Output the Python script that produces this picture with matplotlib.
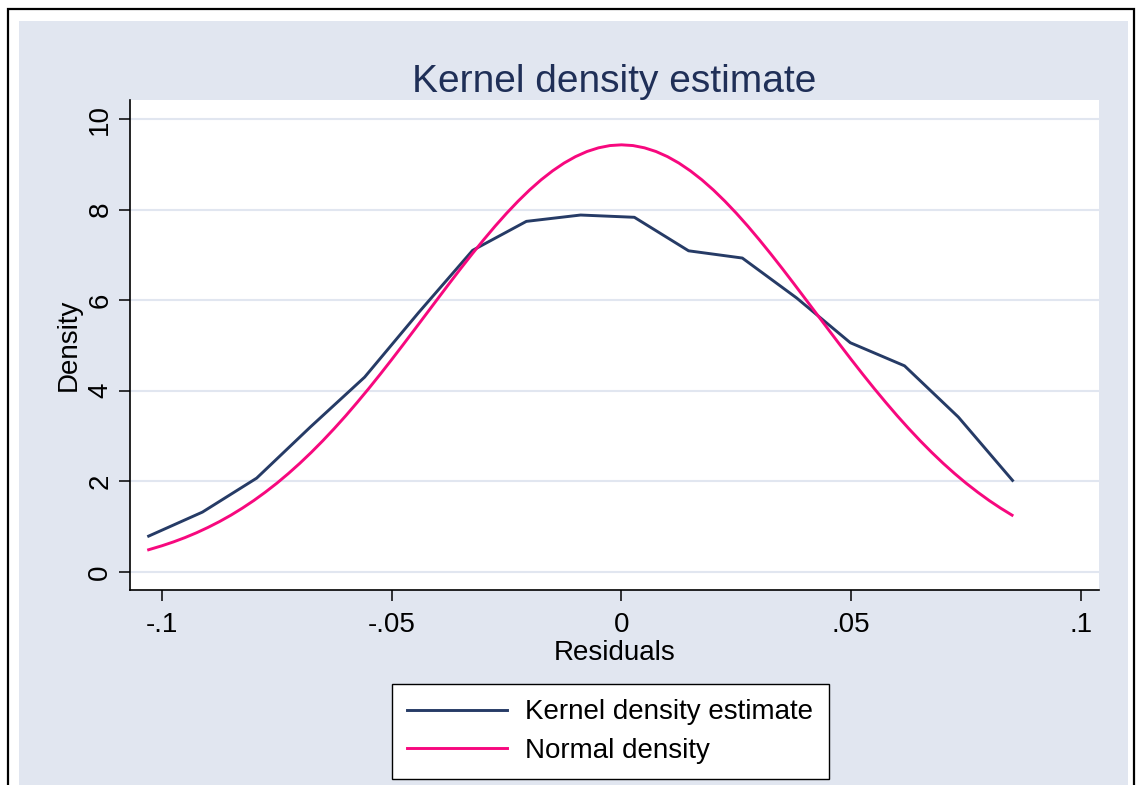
import matplotlib
matplotlib.use('Agg')  # no display
import matplotlib.pyplot as plt
from matplotlib.patches import Rectangle

plt.rcParams['font.family'] = ['Liberation Sans', 'DejaVu Sans']

# Kernel density estimate
kde_x = [-0.1029, -0.0912, -0.0794, -0.0677, -0.0559, -0.0442, -0.0324, -0.0207, -0.0089,
         0.0028, 0.0146, 0.0263, 0.0381, 0.0498, 0.0616, 0.0733, 0.0851]
kde_y = [0.79, 1.32, 2.07, 3.20, 4.30, 5.72, 7.10, 7.74, 7.88,
         7.83, 7.09, 6.93, 6.05, 5.06, 4.55, 3.42, 2.02]

# Normal density curve
norm_x = [-0.1029, -0.1000, -0.0975, -0.0950, -0.0925, -0.0900, -0.0875, -0.0850, -0.0825,
          -0.0800, -0.0775, -0.0750, -0.0725, -0.0700, -0.0675, -0.0650, -0.0625, -0.0600,
          -0.0575, -0.0550, -0.0525, -0.0500, -0.0475, -0.0450, -0.0425, -0.0400, -0.0375,
          -0.0350, -0.0325, -0.0300, -0.0275, -0.0250, -0.0225, -0.0200, -0.0175, -0.0150,
          -0.0125, -0.0100, -0.0075, -0.0050, -0.0025, 0.0000, 0.0025, 0.0050, 0.0075,
          0.0100, 0.0125, 0.0150, 0.0175, 0.0200, 0.0225, 0.0250, 0.0275, 0.0300,
          0.0325, 0.0350, 0.0375, 0.0400, 0.0425, 0.0450, 0.0475, 0.0500, 0.0525,
          0.0550, 0.0575, 0.0600, 0.0625, 0.0650, 0.0675, 0.0700, 0.0725, 0.0750,
          0.0775, 0.0800, 0.0825, 0.0850]
norm_y = [0.489, 0.577, 0.662, 0.757, 0.863, 0.981, 1.110, 1.252, 1.408,
          1.577, 1.761, 1.958, 2.171, 2.398, 2.640, 2.896, 3.166, 3.448,
          3.744, 4.049, 4.365, 4.689, 5.020, 5.355, 5.693, 6.030, 6.366,
          6.697, 7.020, 7.333, 7.634, 7.919, 8.186, 8.433, 8.657, 8.855,
          9.027, 9.170, 9.283, 9.364, 9.414, 9.430, 9.414, 9.364, 9.283,
          9.170, 9.027, 8.855, 8.657, 8.433, 8.186, 7.919, 7.634, 7.333,
          7.020, 6.697, 6.366, 6.030, 5.693, 5.355, 5.020, 4.689, 4.365,
          4.049, 3.744, 3.448, 3.166, 2.896, 2.640, 2.398, 2.171, 1.958,
          1.761, 1.577, 1.408, 1.252]

x_ticks = [-0.1, -0.05, 0, 0.05, 0.1]
x_tick_labels = ['-.1', '-.05', '0', '.05', '.1']
y_ticks = [0, 2, 4, 6, 8, 10]
y_tick_labels = ['0', '2', '4', '6', '8', '10']

W, H = 1137, 785
BG = '#e1e6f0'
NAVY = '#263b66'
PINK = '#f7087e'


def fx(px):
    return px / W


def fy(py):
    return 1 - py / H


fig = plt.figure(figsize=(W / 100, H / 100), dpi=100)
fig.patch.set_facecolor('white')

# outer frame and bluish background
fig.patches.append(Rectangle((fx(8), fy(H + 20)), fx(1134) - fx(8), fy(9) - fy(H + 20),
                             transform=fig.transFigure, facecolor='white',
                             edgecolor='black', linewidth=1.6, zorder=-10))
fig.patches.append(Rectangle((fx(19), fy(H + 20)), fx(1128) - fx(19), fy(21) - fy(H + 20),
                             transform=fig.transFigure, facecolor=BG,
                             edgecolor='none', zorder=-9))

ax = fig.add_axes([fx(130), fy(590), fx(1099) - fx(130), fy(100) - fy(590)])
ax.set_zorder(1)
ax.set_facecolor('white')

ax.plot(kde_x, kde_y, color=NAVY, linewidth=2.1, label='Kernel density estimate', zorder=3)
ax.plot(norm_x, norm_y, color=PINK, linewidth=2.1, label='Normal density', zorder=3)

ax.set_xlim(-0.10696, 0.10392)
ax.set_ylim(-0.40, 10.42)
ax.set_xticks(x_ticks)
ax.set_xticklabels(x_tick_labels)
ax.set_yticks(y_ticks)
ax.set_yticklabels(y_tick_labels, rotation=90, va='center')

ax.grid(axis='y', color=BG, linewidth=1.5)
ax.set_axisbelow(True)
for side in ['top', 'right']:
    ax.spines[side].set_visible(False)
for side in ['left', 'bottom']:
    ax.spines[side].set_linewidth(1.2)
ax.tick_params(axis='both', direction='out', length=8, width=1.1, labelsize=20)
ax.tick_params(axis='x', pad=8)
ax.tick_params(axis='y', pad=4)

ax.set_xlabel('Residuals', fontsize=20, labelpad=1)
ax.set_ylabel('Density', fontsize=20, labelpad=4)
ax.set_title('Kernel density estimate', fontsize=28, color='#1f2f57', pad=4)

fig.legend(loc='upper left', bbox_to_anchor=(fx(392), fy(684)), fontsize=20,
           frameon=True, fancybox=False, edgecolor='black', framealpha=1,
           borderpad=0.55, labelspacing=0.45, handlelength=3.6, handletextpad=0.65,
           borderaxespad=0)

fig.savefig('out.png', dpi=100, facecolor=fig.get_facecolor())
plt.close()
